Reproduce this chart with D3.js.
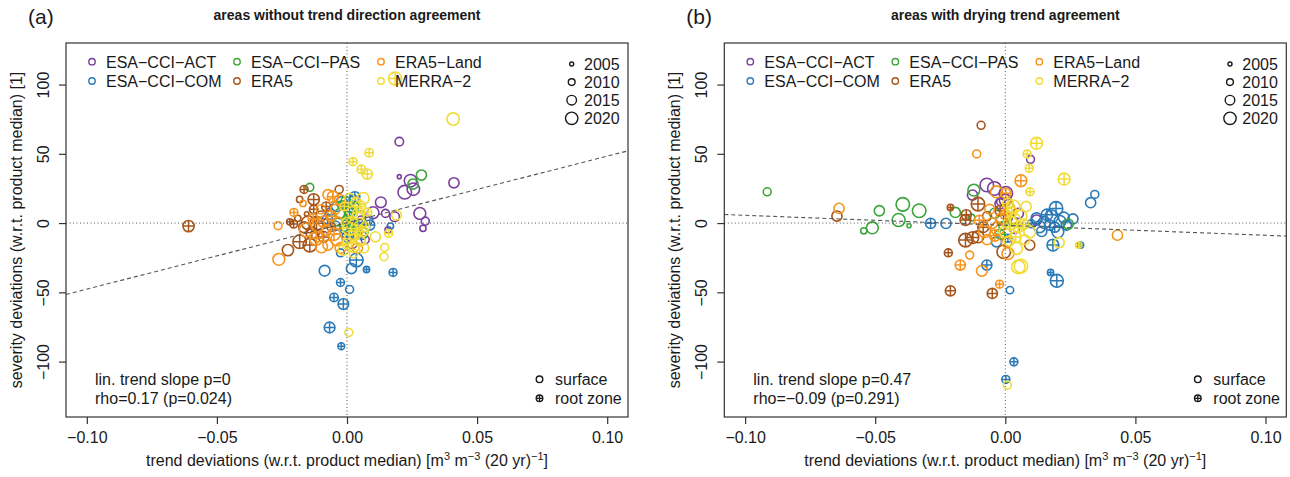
<!DOCTYPE html>
<html>
<head>
<meta charset="utf-8">
<script src="https://cdn.jsdelivr.net/npm/d3@7"></script>
<style>
  body { margin: 0; background: #fff; }
  text { font-family: "Liberation Sans", Arial, Helvetica, sans-serif; fill: #1a1a1a; }
</style>
</head>
<body>
<div id="chart"></div>
<script>
// products, colours, years
const products = ["ESA−CCI−ACT", "ESA−CCI−COM", "ESA−CCI−PAS", "ERA5", "ERA5−Land", "MERRA−2"]
const colors = ["#7b3f9e", "#2a7ab8", "#3aa53a", "#a6551c", "#f7941d", "#f0dc35"]
const yearTicks = [2005, 2010, 2015, 2020]
const xTicks = [-0.1, -0.05, 0, 0.05, 0.1]
const yTicks = [-100, -50, 0, 50, 100]

// panel (a): [trend dev, severity dev, year, root zone]
const aACT = [
  [0.0201, 58.8, 2013, 0], [0.0201, 33.5, 2005, 0], [0.0222, 22.3, 2022, 0], [0.0244, 30.6, 2020, 0],
  [0.0255, 24.5, 2020, 0], [0.0411, 29.1, 2016, 0], [0.0130, 15.0, 2017, 0], [0.0100, 7.5, 2019, 0],
  [0.0148, 7.0, 2012, 0], [0.0183, 4.6, 2015, 0], [0.0280, 7.0, 2019, 0], [0.0301, 1.4, 2012, 0],
  [0.0292, -3.8, 2009, 0], [0.0158, -5.0, 2009, 0], [0.0040, -8.0, 2014, 0], [0.0070, -12.0, 2012, 0],
  [0.0020, -15.0, 2015, 0], [0.0055, 2.0, 2013, 0]
]
const aCOM = [
  [0.0036, -26.7, 2022, 1], [0.0017, -32.8, 2016, 0], [-0.0086, -34.4, 2017, 0], [0.0075, -33.5, 2009, 1],
  [0.0177, -35.6, 2012, 1], [-0.0025, -42.9, 2012, 1], [0.0010, -47.9, 2012, 0], [-0.0050, -53.7, 2013, 1],
  [-0.0014, -58.5, 2017, 1], [-0.0067, -75.4, 2017, 1], [-0.0022, -88.9, 2010, 1], [-0.0025, -21.5, 2012, 0],
  [0.0167, -2.2, 2009, 0], [0.0030, 19.0, 2016, 1], [0.0025, 17.0, 2014, 0], [-0.0075, 2.9, 2016, 1],
  [-0.0065, 8.0, 2012, 0], [-0.0040, 12.0, 2016, 0], [0.0049, 4.6, 2019, 0], [0.0087, -1.4, 2016, 1],
  [0.0080, 2.2, 2015, 0], [0.0045, -0.5, 2015, 1], [-0.0010, -5.0, 2012, 0], [0.0000, -10.0, 2016, 1],
  [0.0060, -9.0, 2012, 0], [-0.0020, 15.0, 2018, 0], [0.0010, 8.0, 2016, 1], [-0.0045, -2.0, 2015, 0]
]
const aPAS = [
  [-0.0143, 25.8, 2012, 0], [0.0286, 34.7, 2016, 0], [0.0254, 28.2, 2016, 0], [-0.0028, 6.8, 2016, 0],
  [0.0010, 9.0, 2016, 0], [0.0005, 5.5, 2012, 0], [0.0062, -6.3, 2016, 0], [-0.0020, 13.0, 2013, 0],
  [0.0020, 0.0, 2014, 0], [-0.0010, -3.0, 2012, 0], [0.0030, 12.0, 2012, 0], [0.0000, 2.0, 2016, 1],
  [-0.0005, 16.0, 2014, 0], [0.0025, -5.0, 2015, 1], [-0.0035, 1.0, 2013, 0]
]
const aERA5 = [
  [-0.0609, -2.2, 2018, 1], [-0.0165, 24.3, 2012, 1], [-0.0182, 17.1, 2009, 0], [-0.0128, 17.1, 2018, 1],
  [-0.0128, 9.9, 2013, 1], [-0.0155, 6.5, 2006, 0], [-0.0220, 0.9, 2009, 1], [-0.0205, -0.7, 2012, 1],
  [-0.0189, 3.4, 2009, 0], [-0.0149, 0.2, 2022, 0], [-0.0117, -0.2, 2022, 1], [-0.0030, 24.3, 2012, 0],
  [-0.0182, -13.5, 2022, 1], [-0.0143, -15.9, 2022, 1], [-0.0227, -19.5, 2018, 0], [-0.0090, -10.0, 2017, 1],
  [-0.0100, 5.0, 2016, 0], [-0.0060, -3.0, 2013, 1], [-0.0135, -7.0, 2019, 1], [-0.0165, -3.0, 2017, 0],
  [-0.0080, 12.0, 2014, 1]
]
const aLand = [
  [-0.0169, 14.2, 2009, 0], [-0.0204, 7.7, 2012, 1], [-0.0265, -1.9, 2012, 0], [-0.0112, -1.4, 2022, 0],
  [-0.0054, 19.0, 2018, 1], [-0.0073, 20.5, 2016, 0], [-0.0028, 17.0, 2016, 0], [-0.0157, -5.0, 2022, 0],
  [-0.0262, -26.2, 2019, 0], [-0.0098, -17.1, 2019, 0], [-0.0073, -15.9, 2016, 0], [-0.0118, -11.0, 2022, 1],
  [-0.0040, -12.0, 2019, 0], [-0.0080, -5.0, 2016, 0], [-0.0060, 5.0, 2017, 1], [-0.0100, 10.0, 2014, 0],
  [-0.0035, 0.0, 2019, 0], [0.0040, -18.0, 2016, 0], [-0.0050, -8.0, 2020, 1], [-0.0090, 1.0, 2018, 0],
  [-0.0045, 10.0, 2015, 0], [-0.0025, -18.0, 2017, 0], [-0.0130, 3.0, 2016, 1]
]
const aMERRA = [
  [0.0185, 104.3, 2021, 1], [0.0408, 75.1, 2020, 0], [0.0023, 44.3, 2012, 1], [0.0085, 50.8, 2013, 1],
  [0.0055, 38.8, 2013, 1], [0.0078, 35.4, 2016, 1], [0.0062, 17.8, 2019, 0], [0.0050, 12.0, 2018, 1],
  [0.0020, 8.0, 2017, 0], [0.0040, 3.0, 2022, 1], [0.0010, -4.0, 2022, 0], [0.0030, -8.0, 2019, 1],
  [0.0050, -13.0, 2017, 0], [0.0000, -15.0, 2016, 1], [-0.0015, -19.5, 2016, 0], [0.0025, -22.0, 2013, 0],
  [0.0109, -9.9, 2016, 0], [0.0145, -17.6, 2012, 0], [0.0142, -24.3, 2012, 0], [0.0160, -7.5, 2012, 1],
  [0.0190, 5.8, 2015, 0], [0.0007, -79.0, 2012, 0], [0.0070, -3.0, 2014, 0], [-0.0010, 12.0, 2013, 1],
  [0.0080, 8.0, 2012, 1], [0.0035, 15.0, 2016, 0], [0.0015, -10.0, 2020, 0], [0.0060, -6.0, 2017, 1],
  [0.0045, 7.0, 2019, 0], [0.0000, 0.0, 2018, 1], [0.0025, -17.0, 2018, 0], [0.0065, -18.0, 2015, 0],
  [0.0010, 18.0, 2015, 0], [0.0055, -1.0, 2016, 0]
]

// panel (b)
const bACT = [
  [-0.0126, 20.2, 2016, 0], [-0.0071, 27.5, 2022, 0], [-0.0042, 25.0, 2022, 0], [0.0002, 21.5, 2022, 0],
  [-0.0018, 15.4, 2012, 0], [0.0097, 46.0, 2012, 0], [0.0000, 16.6, 2019, 0], [-0.0020, 14.0, 2016, 0],
  [0.0050, 7.0, 2016, 0], [0.0120, 2.2, 2016, 0], [0.0010, 4.0, 2014, 0], [0.0035, -4.0, 2015, 0]
]
const bCOM = [
  [-0.0287, -0.2, 2016, 1], [-0.0228, -0.2, 2016, 0], [0.0344, 20.7, 2012, 0], [0.0328, 14.7, 2016, 0],
  [0.0195, 10.6, 2022, 1], [0.0150, 0.4, 2019, 0], [0.0178, 4.8, 2021, 0], [0.0210, 1.2, 2019, 0],
  [0.0170, -1.4, 2016, 0], [0.0235, -1.4, 2016, 0], [0.0132, -2.6, 2019, 0], [0.0202, -6.3, 2019, 0],
  [0.0183, -15.9, 2019, 1], [0.0289, -15.9, 2009, 1], [0.0174, -35.6, 2009, 1], [0.0198, -41.7, 2021, 1],
  [-0.0071, -30.3, 2016, 1], [0.0018, -48.4, 2011, 0], [0.0033, -100.2, 2012, 1], [0.0002, -112.9, 2012, 1],
  [-0.0034, -13.5, 2016, 0], [0.0010, -11.0, 2012, 1], [0.0120, 3.5, 2017, 0], [0.0100, -0.5, 2012, 1],
  [0.0260, 3.0, 2016, 0], [0.0160, 6.0, 2018, 1], [0.0225, 4.0, 2017, 0], [0.0190, -3.0, 2016, 1],
  [0.0140, -6.0, 2016, 0]
]
const bPAS = [
  [-0.0915, 22.6, 2012, 0], [-0.0484, 8.9, 2016, 0], [-0.0394, 13.5, 2022, 0], [-0.0331, 8.9, 2022, 0],
  [-0.0410, 2.2, 2021, 0], [-0.0370, -1.9, 2005, 0], [-0.0511, -3.4, 2019, 0], [-0.0544, -5.6, 2009, 0],
  [-0.0192, 7.7, 2016, 0], [-0.0121, 23.8, 2019, 0], [0.0242, -0.7, 2016, 0], [-0.0041, 7.0, 2016, 0],
  [-0.0010, -2.0, 2012, 0], [0.0030, 1.0, 2014, 0], [-0.0130, 4.0, 2010, 0], [-0.0020, -8.0, 2015, 1]
]
const bERA5 = [
  [-0.0647, 5.1, 2016, 0], [-0.0093, 70.6, 2012, 0], [-0.0211, 11.3, 2009, 1], [-0.0153, 2.2, 2017, 1],
  [-0.0105, 13.7, 2022, 1], [-0.0153, -12.3, 2022, 1], [-0.0125, -10.5, 2019, 1], [-0.0105, -9.9, 2019, 0],
  [-0.0219, -21.5, 2012, 1], [-0.0211, -48.9, 2016, 1], [-0.0050, -50.8, 2016, 1], [-0.0006, -20.7, 2022, 0],
  [0.0094, -15.9, 2016, 0], [-0.0070, 5.0, 2014, 0], [-0.0020, 9.0, 2016, 1], [-0.0150, 6.0, 2016, 1],
  [-0.0085, -3.0, 2017, 1]
]
const bLand = [
  [-0.0639, 10.6, 2016, 0], [-0.0110, 49.9, 2012, 0], [-0.0034, 22.6, 2019, 0], [0.0002, 21.5, 2016, 1],
  [0.0060, 30.6, 2019, 1], [-0.0137, -23.1, 2012, 0], [-0.0173, -30.3, 2016, 1], [-0.0090, -34.5, 2017, 0],
  [-0.0022, -44.1, 2012, 1], [0.0431, -8.7, 2016, 0], [0.0010, -22.0, 2019, 0], [-0.0050, 0.0, 2017, 0],
  [-0.0080, -6.0, 2019, 0], [-0.0030, -4.0, 2022, 0], [-0.0100, 2.0, 2016, 1], [0.0015, 11.0, 2017, 0],
  [-0.0070, -12.0, 2016, 0], [0.0000, 6.0, 2016, 1], [-0.0040, -9.0, 2018, 1], [-0.0015, 3.0, 2019, 0],
  [-0.0060, 10.0, 2015, 0], [0.0005, -14.0, 2016, 0]
]
const bMERRA = [
  [0.0084, 49.9, 2012, 1], [0.0120, 57.6, 2019, 1], [0.0092, 39.5, 2012, 1], [0.0095, 22.6, 2012, 1],
  [0.0226, 31.8, 2019, 1], [0.0030, 11.8, 2022, 0], [0.0043, -18.3, 2019, 0], [0.0050, -31.6, 2022, 0],
  [0.0094, -6.3, 2019, 0], [0.0207, -14.2, 2016, 0], [0.0282, -15.9, 2009, 1], [0.0008, -117.0, 2012, 0],
  [0.0060, -31.1, 2022, 0], [0.0020, 0.0, 2022, 1], [0.0060, 5.0, 2019, 0], [0.0000, -6.0, 2019, 0],
  [0.0040, -10.0, 2017, 1], [0.0080, 12.0, 2016, 0], [0.0010, 14.0, 2017, 1], [0.0050, -3.0, 2016, 1],
  [0.0035, 3.0, 2018, 0], [0.0070, -1.0, 2017, 1], [0.0015, -13.0, 2016, 0], [0.0025, 8.0, 2017, 1],
  [0.0075, -12.0, 2015, 0]
]

// [intercept, slope] of the dashed linear fit
const trendA = [0.3, 480]
const trendB = [-1.6, -72]
const statsA = ["lin. trend slope p=0", "rho=0.17 (p=0.024)"]
const statsB = ["lin. trend slope p=0.47", "rho=−0.09 (p=0.291)"]

const panels = [
  { tag: "(a)", title: "areas without trend direction agreement", sets: [aACT, aCOM, aPAS, aERA5, aLand, aMERRA], trend: trendA, stats: statsA },
  { tag: "(b)", title: "areas with drying trend agreement", sets: [bACT, bCOM, bPAS, bERA5, bLand, bMERRA], trend: trendB, stats: statsB }
]

const WIDTH = 1290, HEIGHT = 477
const BOX = { TOP: 43, BOTTOM: 417, WIDTH: 562 }
const PANEL_LEFT = [66, 724.3]
const INK = "#1a1a1a"

const svg = d3.select("#chart").append("svg")
    .attr("width", WIDTH)
    .attr("height", HEIGHT)

// symbol radius grows with year
const rScale = d3.scaleLinear().domain([2000, 2020]).range([0.6, 6.2])

function marker(sel, color) {
    sel.append("circle")
        .attr("r", d => rScale(d[2]))
        .attr("fill", "none")
        .attr("stroke", color)
        .attr("stroke-width", 1.6)
    sel.filter(d => d[3] === 1).append("path")
        .attr("d", d => { const r = rScale(d[2]); return `M${-r},0H${r}M0,${-r}V${r}` })
        .attr("stroke", color)
        .attr("stroke-width", 1.5)
}

function drawPanel(p, left) {
    const g = svg.append("g")
    const right = left + BOX.WIDTH
    const mid = (left + right) / 2

    const x = d3.scaleLinear().domain([-0.108, 0.108]).range([left, right])
    const y = d3.scaleLinear().domain([-140, 130]).range([BOX.BOTTOM, BOX.TOP])

    // points
    p.sets.forEach((set, i) => {
        const pts = g.append("g").selectAll("g")
            .data(set)
            .enter().append("g")
            .attr("transform", d => `translate(${x(d[0])},${y(d[1])})`)
        marker(pts, colors[i])
    })

    // zero lines and fit
    g.append("line")
        .attr("x1", x(0)).attr("x2", x(0)).attr("y1", BOX.TOP).attr("y2", BOX.BOTTOM)
        .attr("stroke", "#555").attr("stroke-width", 1).attr("stroke-dasharray", "1,2.5")
    g.append("line")
        .attr("x1", left).attr("x2", right).attr("y1", y(0)).attr("y2", y(0))
        .attr("stroke", "#555").attr("stroke-width", 1).attr("stroke-dasharray", "1,2.5")
    const xd = x.domain()
    g.append("line")
        .attr("x1", x(xd[0])).attr("y1", y(p.trend[0] + p.trend[1] * xd[0]))
        .attr("x2", x(xd[1])).attr("y2", y(p.trend[0] + p.trend[1] * xd[1]))
        .attr("stroke", "#555").attr("stroke-width", 1.1).attr("stroke-dasharray", "4,3")

    // box
    g.append("rect")
        .attr("x", left).attr("y", BOX.TOP)
        .attr("width", BOX.WIDTH).attr("height", BOX.BOTTOM - BOX.TOP)
        .attr("fill", "none").attr("stroke", "#333").attr("stroke-width", 1.2)

    // x axis
    const xAxis = g.append("g")
        .attr("transform", `translate(0, ${BOX.BOTTOM})`)
        .call(d3.axisBottom(x).tickValues(xTicks).tickSize(7).tickFormat(d3.format(".2f")))
    xAxis.select(".domain").remove()
    xAxis.selectAll("line").attr("stroke", "#333").attr("stroke-width", 1.2)
    xAxis.selectAll("text")
        .attr("y", 26).attr("dy", 0)
        .attr("font-size", 16).attr("font-family", null).attr("fill", INK)

    // y axis
    const yAxis = g.append("g")
        .attr("transform", `translate(${left}, 0)`)
        .call(d3.axisLeft(y).tickValues(yTicks).tickSize(7))
    yAxis.select(".domain").remove()
    yAxis.selectAll("line").attr("stroke", "#333").attr("stroke-width", 1.2)
    yAxis.selectAll("text")
        .attr("x", 0).attr("dy", 0)
        .attr("transform", "translate(-17,0) rotate(-90)")
        .attr("text-anchor", "middle")
        .attr("font-size", 16).attr("font-family", null).attr("fill", INK)

    // axis titles
    const xt = g.append("text")
        .attr("x", mid).attr("y", 466)
        .attr("text-anchor", "middle")
        .attr("font-size", 16)
    xt.append("tspan").text("trend deviations (w.r.t. product median) [m")
    xt.append("tspan").attr("font-size", 11).attr("dy", -6).text("3")
    xt.append("tspan").attr("dy", 6).text(" m")
    xt.append("tspan").attr("font-size", 11).attr("dy", -6).text("−3")
    xt.append("tspan").attr("dy", 6).text(" (20 yr)")
    xt.append("tspan").attr("font-size", 11).attr("dy", -6).text("−1")
    xt.append("tspan").attr("dy", 6).text("]")

    g.append("text")
        .attr("transform", `translate(${left - 44}, ${(BOX.TOP + BOX.BOTTOM) / 2}) rotate(-90)`)
        .attr("text-anchor", "middle")
        .attr("font-size", 16)
        .text("severity deviations (w.r.t. product median) [1]")

    // title and tag
    g.append("text")
        .attr("x", mid).attr("y", 19.5)
        .attr("text-anchor", "middle")
        .attr("font-size", 14).attr("font-weight", "bold")
        .text(p.title)
    g.append("text")
        .attr("x", left - 38).attr("y", 24)
        .attr("font-size", 21)
        .text(p.tag)

    // product legend
    const legCols = [[0, 1], [2, 3], [4, 5]]
    const colX = [26, 171, 315]
    legCols.forEach((col, c) => {
        col.forEach((pi, r) => {
            const cy = 61.7 + r * 19.3
            g.append("circle")
                .attr("cx", left + colX[c]).attr("cy", cy).attr("r", 3.2)
                .attr("fill", "none").attr("stroke", colors[pi]).attr("stroke-width", 1.4)
            g.append("text")
                .attr("x", left + colX[c] + 14).attr("y", cy + 6)
                .attr("font-size", 16)
                .text(products[pi])
        })
    })

    // year size legend
    yearTicks.forEach((yr, i) => {
        const cy = 64 + i * 18.1
        g.append("circle")
            .attr("cx", left + 505.7).attr("cy", cy).attr("r", rScale(yr))
            .attr("fill", "none").attr("stroke", INK).attr("stroke-width", 1.4)
        g.append("text")
            .attr("x", left + 518).attr("y", cy + 5.5)
            .attr("font-size", 16)
            .text(yr)
    })

    // layer legend
    const layers = [["surface", 0], ["root zone", 1]]
    layers.forEach((l, i) => {
        const cy = 379.3 + i * 19
        const lg = g.append("g").attr("transform", `translate(${left + 473.5}, ${cy})`)
        lg.append("circle").attr("r", 3.3)
            .attr("fill", "none").attr("stroke", INK).attr("stroke-width", 1.4)
        if (l[1]) lg.append("path").attr("d", "M-3.3,0H3.3M0,-3.3V3.3")
            .attr("stroke", INK).attr("stroke-width", 1.3)
        g.append("text")
            .attr("x", left + 489).attr("y", cy + 6)
            .attr("font-size", 16)
            .text(l[0])
    })

    // stats text
    p.stats.forEach((s, i) => {
        g.append("text")
            .attr("x", left + 29).attr("y", 385 + i * 18.5)
            .attr("font-size", 16)
            .text(s)
    })
}

panels.forEach((p, i) => drawPanel(p, PANEL_LEFT[i]))
</script>
</body>
</html>
